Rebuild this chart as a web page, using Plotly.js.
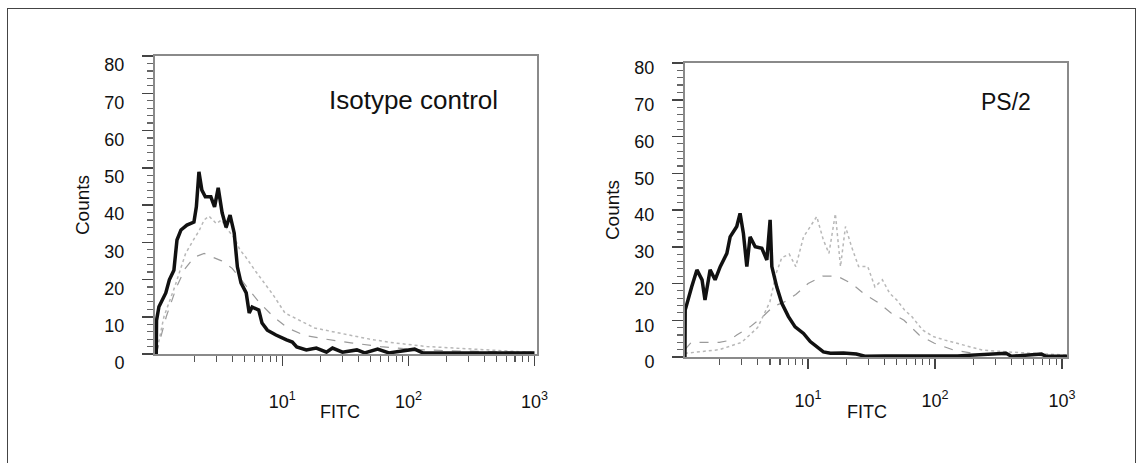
<!DOCTYPE html>
<html>
<head>
<meta charset="utf-8">
<script src="https://cdn.plot.ly/plotly-3.0.1.min.js"></script>
<style>
  html, body { margin: 0; padding: 0; background: #fff; }
  #wrap { position: relative; width: 1142px; height: 463px; overflow: hidden; }
  #chart { position: absolute; left: 0; top: 0; width: 1142px; height: 463px; }
  #frame { position: absolute; left: 7px; top: 8px; width: 1127px; height: 520px;
           border: 1.5px solid #444; border-bottom: none; pointer-events: none; }
</style>
</head>
<body>
<div id="wrap">
  <div id="chart"></div>
  <div id="frame"></div>
</div>
<script>
// ---------- Data ----------
// Panel 1: Isotype control
const isoBlackX = [1.0, 1.005, 1.05, 1.19, 1.27, 1.38, 1.46, 1.57, 1.75, 1.99,
  2.08, 2.18, 2.3, 2.45, 2.71, 2.9, 3.1, 3.33, 3.58, 3.85,
  4.15, 4.4, 4.7, 5.17, 5.46, 5.76, 6.5, 6.9, 7.6, 8.9,
  10.8, 12.0, 13, 15.5, 18.6, 22.4, 25, 30, 39, 45,
  57, 70, 112, 130, 200, 400, 700, 1000];
const isoBlackY = [0, 9, 12.7, 16.4, 19.9, 22.5, 30.6, 33.3, 34.6, 35.4,
  39.5, 48.9, 44, 42.2, 42.2, 39.5, 44.6, 37.9, 34, 37.3,
  32.5, 23.4, 19.1, 16.4, 11, 12.6, 11.8, 8.3, 6.4, 5.1,
  3.8, 3.2, 1.9, 1.1, 1.6, 0.5, 1.6, 0.5, 1.1, 0.3,
  1.3, 0.3, 1.3, 0.3, 0.3, 0.3, 0.3, 0.3];

const isoDotX = [1.0, 1.15, 1.4, 1.71, 2.0, 2.18, 2.4, 2.62, 3.0, 3.3,
  3.56, 4.2, 4.6, 5.13, 6.2, 7.2, 8.4, 10.5, 13.6, 18,
  25, 35, 49, 76, 140, 257, 470, 870, 1000];
const isoDotY = [0, 10, 18, 27, 31, 33, 36, 37, 35, 36,
  34, 31, 28, 26, 22, 19, 16, 11, 9, 7,
  6, 5, 4, 3, 2, 1.5, 1, 0.5, 0.4];

const isoDashX = [1.0, 1.2, 1.45, 1.7, 2.0, 2.4, 2.8, 3.3, 4.0, 5.0,
  6.5, 8.5, 11, 15, 22, 35, 60, 110, 250, 800, 1000];
const isoDashY = [0, 10, 18, 23, 26, 27, 26, 25, 23, 19,
  14, 10, 7, 5, 4, 3, 2, 1.2, 0.8, 0.5, 0.4];

// Panel 2: PS/2
const psBlackX = [1.07, 1.075, 1.21, 1.33, 1.46, 1.54, 1.69, 1.85, 2.03, 2.29,
  2.43, 2.74, 2.91, 3.09, 3.29, 3.49, 3.83, 4.32, 4.73, 5.02,
  5.18, 5.66, 6.21, 7.0, 7.9, 9.2, 10.4, 11.7, 13.2, 15,
  19, 24, 28, 40, 80, 150, 363, 400, 690, 750, 1100];
const psBlackY = [0, 12.8, 19.1, 23.7, 21, 15.5, 23.7, 21, 24.6, 28.2,
  32.7, 35.5, 39.1, 33.7, 24.6, 32.7, 30, 29.6, 26.4, 37.3,
  24.6, 19.1, 14.6, 11, 8.2, 6.4, 4.2, 2.8, 1.4, 1.0,
  1.1, 0.8, 0.2, 0.3, 0.2, 0.3, 1.0, 0.2, 0.8, 0.2, 0.2];

const psDotX = [1.07, 2.0, 3.0, 4.0, 5.0, 5.6, 6.2, 7.1, 8.0, 9.2,
  10.4, 11.7, 13.2, 14.6, 16.4, 18, 19.7, 22, 25, 29.5,
  33.6, 38.5, 44, 50, 57.5, 65.7, 80, 98, 120, 168,
  235, 370, 710, 1096];
const psDotY = [1, 2, 4, 8, 15, 22.8, 27, 28, 24.6, 32.7,
  35.5, 38.2, 31.8, 28.2, 39, 24.6, 35.5, 30, 24.6, 24.6,
  19.1, 21, 17.3, 15.5, 12.8, 11, 7.3, 5.5, 4.6, 3.3,
  1.9, 1.4, 0.9, 0.5];

const psDashX = [1.07, 1.2, 2.0, 2.4, 2.74, 3.49, 4.4, 5.3, 6.5, 8,
  10, 13, 17, 22, 28, 35, 45, 57, 75, 98,
  140, 200, 400, 1096];
const psDashY = [2, 4, 4, 4.5, 6, 8.2, 11, 13.7, 15, 17,
  20, 22, 22, 20, 17, 15, 12, 10, 6, 3.8,
  1.9, 1.0, 0.5, 0.3];

// Axis ticks / labels
const xTickVals = [10, 100, 1000];
const xTickText = ['10<sup>1</sup>', '10<sup>2</sup>', '10<sup>3</sup>'];
const yTickVals = [0, 10, 20, 30, 40, 50, 60, 70, 80];
const panelTitles = ['Isotype control', 'PS/2'];
const xTitle = 'FITC';
const yTitle = 'Counts';

// minor ticks on log axis: 2..9 within each decade
const xMinorVals = [];
for (let k = 0; k < 3; k++) {
  for (let d = 2; d <= 9; d++) xMinorVals.push(d * Math.pow(10, k));
}

// ---------- Traces ----------
function tr(x, y, xa, ya, color, width, dash) {
  return { type: 'scatter', mode: 'lines', x: x, y: y, xaxis: xa, yaxis: ya,
           line: { color: color, width: width, dash: dash, shape: 'linear' },
           hoverinfo: 'skip' };
}
const data = [
  tr(isoDotX, isoDotY, 'x', 'y', '#b8b8b8', 1.5, 'dot'),
  tr(isoDashX, isoDashY, 'x', 'y', '#9a9a9a', 1.2, 'dash'),
  tr(isoBlackX, isoBlackY, 'x', 'y', '#111111', 3.5, 'solid'),
  tr(psDotX, psDotY, 'x2', 'y2', '#b8b8b8', 1.5, 'dot'),
  tr(psDashX, psDashY, 'x2', 'y2', '#9a9a9a', 1.2, 'dash'),
  tr(psBlackX, psBlackY, 'x2', 'y2', '#111111', 3.5, 'solid')
];

// ---------- Layout ----------
const W = 1142, H = 463;
function xAxis(domain, range, anchor, standoff) {
  return {
    type: 'log', domain: domain, range: range, anchor: anchor,
    tickmode: 'array', tickvals: xTickVals, ticktext: xTickText,
    ticks: 'outside', ticklen: 10, tickwidth: 1.5, tickcolor: '#444',
    minor: { tickmode: 'array', tickvals: xMinorVals, ticks: 'outside',
             ticklen: 6, tickwidth: 1.2, tickcolor: '#555', showgrid: false },
    showline: true, linecolor: '#8a8a8a', linewidth: 2, mirror: true,
    showgrid: false, zeroline: false,
    ticklabelstandoff: standoff,
    tickfont: { size: 18, color: '#111' }
  };
}
function yAxis(domain, anchor, shift) {
  return {
    domain: domain, range: [0, 80], anchor: anchor,
    tickmode: 'array', tickvals: yTickVals,
    ticks: 'outside', ticklen: 11, tickwidth: 1.5, tickcolor: '#444',
    minor: { dtick: 2, tick0: 0, ticks: 'outside', ticklen: 6, tickwidth: 1.2,
             tickcolor: '#666', showgrid: false },
    showline: true, linecolor: '#8a8a8a', linewidth: 2, mirror: true,
    showgrid: false, zeroline: false,
    ticklabelshift: shift, ticklabelstandoff: 14,
    tickfont: { size: 18, color: '#111' },
    title: { text: yTitle, font: { size: 19, color: '#111' }, standoff: 10 }
  };
}

const layout = {
  width: W, height: H,
  margin: { l: 0, r: 0, t: 0, b: 0 },
  paper_bgcolor: '#ffffff', plot_bgcolor: '#ffffff',
  showlegend: false,
  font: { family: 'Liberation Sans, Arial, sans-serif', color: '#111', size: 16 },
  xaxis: xAxis([155 / W, 537 / W], [-0.01, 3.02], 'y', 20),
  yaxis: yAxis([1 - 354 / H, 1 - 56 / H], 'x', 9),
  xaxis2: xAxis([685 / W, 1067 / W], [0.03, 3.04], 'y2', 16),
  yaxis2: yAxis([1 - 357 / H, 1 - 63 / H], 'x2', 5),
  annotations: [
    { text: panelTitles[0], xref: 'x domain', yref: 'y domain', x: 0.678, y: 0.852,
      xanchor: 'center', yanchor: 'middle',
      showarrow: false, font: { size: 26, color: '#111' } },
    { text: panelTitles[1], xref: 'x2 domain', yref: 'y2 domain', x: 0.840, y: 0.867,
      xanchor: 'center', yanchor: 'middle',
      showarrow: false, font: { size: 23, color: '#111' } },
    { text: xTitle, xref: 'x domain', yref: 'y domain', x: 0.484, y: -0.195,
      xanchor: 'center', yanchor: 'middle',
      showarrow: false, font: { size: 18, color: '#111' } },
    { text: xTitle, xref: 'x2 domain', yref: 'y2 domain', x: 0.476, y: -0.187,
      xanchor: 'center', yanchor: 'middle',
      showarrow: false, font: { size: 18, color: '#111' } }
  ]
};

Plotly.newPlot('chart', data, layout, { staticPlot: true, displayModeBar: false });
</script>
</body>
</html>
